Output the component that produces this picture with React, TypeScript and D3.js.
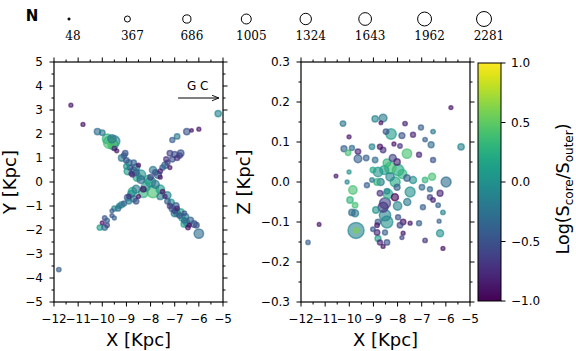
import React from "react";
import * as d3 from "d3";

// legend sizes (N)
const legendN = [48, 367, 686, 1005, 1324, 1643, 1962, 2281];

// left panel: x, y [Kpc], log(S_core/S_outer), N
const xyX = [-11.3, -10.8, -10.2, -10.0, -9.7, -9.8, -9.6, -9.5, -9.5, -9.4,
  -5.2, -6.0, -6.3, -6.5, -6.9, -7.1, -7.0, -6.8, -6.9, -7.1, -7.3, -7.2, -7.5, -7.6, -7.7, -7.8, -7.6,
  -8.0, -8.2, -8.4, -7.9, -8.3, -8.6, -8.0, -7.8, -8.1,
  -9.1, -9.0, -8.9, -8.85, -8.7, -8.8, -8.6, -8.5, -9.0, -8.75,
  -8.6, -8.8, -8.9, -8.7, -8.9, -9.1, -9.3, -9.5, -8.5, -9.6,
  -9.6, -9.5, -9.9, -10.0, -10.1, -9.9, -9.8, -9.8,
  -7.6, -7.5, -7.6, -7.4, -7.3, -7.2, -7.1, -7.0, -6.9, -6.8, -6.7, -6.6, -6.5, -6.4, -6.2, -6.0, -6.9, -7.0, -6.6,
  -11.8,
  -9.2, -9.05, -8.95, -8.7, -8.55, -8.4,
  -7.2, -6.75, -7.4, -7.9, -7.35,
  -8.75, -8.95, -9.2, -9.35, -8.6, -8.3,
  -7.3, -7.15, -6.95, -6.75, -6.55, -6.35, -6.45, -6.1, -6.6,
  -9.55, -9.6];
const xyY = [3.2, 2.4, 2.1, 2.05, 1.65, 1.8, 1.6, 1.7, 1.4, 1.3,
  2.85, 2.2, 2.15, 2.1, 1.9, 1.75, 1.15, 1.1, 1.0, 0.95, 0.8, 0.6, 0.6, 0.45, 0.3, 0.4, 0.2,
  0.0, -0.2, 0.3, -0.4, -0.3, 0.4, 0.2, -0.1, 0.1,
  1.1, 0.9, 0.8, 0.6, 0.5, 0.35, 0.6, 0.7, 0.65, 0.3,
  -0.3, -0.5, -0.6, -0.7, -0.8, -0.9, -1.0, -1.1, -0.6, -1.2,
  -1.4, -1.5, -1.5, -1.7, -1.9, -1.9, -1.8, -1.6,
  -0.3, -0.4, -0.6, -0.6, -0.8, -1.0, -1.1, -1.2, -1.3, -1.4, -1.5, -1.6, -1.7, -1.8, -1.75, -2.15, -1.1, -1.3, -1.3,
  -3.65,
  1.0, 1.2, 0.45, 0.8, 0.2, 0.1,
  1.2, 1.2, 0.7, 0.5, 0.95,
  -0.4, -0.65, -0.95, -1.1, -0.8, -0.45,
  -0.55, -0.85, -1.0, -1.25, -1.45, -1.6, -1.9, -1.8, -1.75,
  1.55, 1.8];
const xyC = [-0.9, -0.9, -0.3, -0.2, 0.4, 0.3, 0.5, -0.1, -0.8, -0.9,
  -0.1, -0.9, -0.9, -0.5, -0.2, -0.4, -0.5, -0.6, -0.7, -0.5, -0.6, -0.9, -0.4, -0.8, -0.3, -0.5, -0.9,
  -0.1, 0.1, 0.0, 0.4, -0.9, -0.4, -0.6, -0.2, 0.2,
  -0.4, -0.5, -0.2, -0.6, -0.3, -0.8, -0.1, -0.9, 0.0, -0.7,
  -0.2, 0.0, -0.7, -0.3, -0.1, -0.4, -0.2, -0.1, -0.9, -0.4,
  -0.5, -0.4, -0.5, -0.9, 0.1, -0.3, -0.6, -0.4,
  0.1, -0.9, -0.2, -0.8, -0.4, -0.7, -0.3, -0.6, -0.1, -0.5, 0.1, -0.3, 0.0, -0.9, -0.5, -0.3, -0.8, -0.2, -0.5,
  -0.4,
  -0.2, -0.5, 0.1, -0.4, 0.2, -0.3,
  -0.6, -0.5, -0.3, -0.2, -0.7,
  0.2, -0.4, 0.0, -0.3, -0.5, 0.3,
  -0.1, 0.0, -0.4, 0.2, -0.2, -0.4, -0.9, -0.5, 0.1,
  0.2, -0.2];
const xyN = [150, 150, 400, 300, 1500, 900, 700, 1200, 200, 150,
  400, 150, 120, 400, 300, 250, 350, 300, 250, 300, 250, 150, 300, 200, 500, 300, 150,
  1000, 800, 900, 1500, 300, 400, 300, 600, 700,
  300, 300, 400, 300, 350, 200, 500, 150, 300, 200,
  600, 500, 200, 400, 300, 250, 250, 250, 150, 150,
  150, 150, 200, 150, 300, 300, 200, 200,
  700, 200, 400, 150, 300, 250, 400, 300, 400, 300, 350, 300, 400, 150, 400, 900, 200, 500, 200,
  200,
  400, 300, 500, 300, 700, 600,
  300, 400, 400, 500, 250,
  700, 400, 350, 300, 300, 900,
  500, 400, 400, 400, 400, 400, 200, 300, 450,
  1000, 700];

// right panel: x [Kpc], z [Kpc], log ratio, N
const xzX = [-5.79, -5.37, -10.26, -10.01, -10.55, -10.22, -10.05, -9.89, -9.64, -9.64, -10.01, -10.09,
  -8.93, -8.6, -8.69, -7.69, -7.03, -6.53, -8.27, -8.48, -7.82, -7.36, -6.86, -6.61, -8.73, -9.06,
  -7.61, -7.11, -6.53, -8.44, -8.02, -7.98, -8.81, -8.85, -8.31, -7.61, -7.36, -6.86, -6.57, -5.99,
  -6.24, -9.27, -8.73, -8.44, -8.02, -7.48, -6.99, -6.66, -9.85, -9.97, -9.76, -9.89, -9.76,
  -8.11, -8.52, -8.6, -8.52, -8.44, -8.81, -8.85, -9.02, -8.85, -8.52, -9.72, -9.72, -11.25, -11.71,
  -8.81, -8.73, -8.44, -8.6, -7.98, -7.77, -7.9, -7.11, -7.48, -7.77, -7.82, -6.95, -6.66, -6.53,
  -6.32, -6.12, -6.28, -6.24, -6.86, -6.12, -9.02, -8.93, -9.06, -8.2, -8.6, -8.15, -7.9,
  -8.3, -8.55, -8.1, -8.4, -8.0, -7.8, -8.7, -7.6, -8.9, -9.3];
const xzZ = [0.186, 0.088, 0.146, 0.113, 0.015, 0.083, 0.073, 0.085, 0.076, 0.058, 0.025, 0.0,
  0.158, 0.16, 0.148, 0.146, 0.136, 0.126, 0.12, 0.126, 0.116, 0.118, 0.106, 0.093, 0.088, 0.088,
  0.071, 0.068, 0.055, 0.048, 0.05, 0.03, 0.025, 0.0, 0.013, 0.01, 0.005, 0.005, 0.013, 0.0,
  -0.028, -0.008, -0.028, -0.023, -0.013, -0.025, -0.013, -0.018, -0.02, -0.045, -0.058, -0.076, -0.078,
  -0.038, -0.053, -0.063, -0.083, -0.1, -0.1, -0.108, -0.118, -0.126, -0.126, -0.121, -0.121, -0.106, -0.151,
  -0.141, -0.151, -0.151, -0.161, -0.088, -0.1, -0.108, -0.103, -0.103, -0.128, -0.139, -0.063, -0.038, -0.045,
  -0.058, -0.076, -0.098, -0.128, -0.146, -0.166, 0.03, 0.055, 0.005, 0.06, 0.08, 0.095, 0.09,
  0.035, 0.03, 0.0, -0.03, -0.06, 0.02, 0.0, -0.05, -0.07, 0.06];
const xzC = [-0.9, -0.1, -0.2, -0.9, -0.9, -0.4, 0.4, -0.3, -0.8, -0.4, 0.0, -0.1,
  -0.1, -0.2, -0.9, -0.8, -0.4, -0.2, 0.1, -0.5, -0.5, -0.8, -0.4, -0.3, -0.9, -0.1,
  0.4, -0.8, -0.5, 0.3, -0.8, 0.2, 0.0, 0.3, -0.1, -0.4, 0.0, 0.3, 0.4, -0.3,
  -0.8, -0.4, -0.7, -0.1, -0.4, 0.0, -0.3, -0.3, 0.4, 0.3, 0.4, -0.3, -0.2,
  -1.0, -0.6, -0.7, -0.1, 0.0, -0.4, -0.9, -0.5, -0.8, -0.4, -0.1, 0.6, -0.9, -0.4,
  0.1, -0.8, -0.5, -0.9, -0.5, -0.9, -0.6, -0.4, -0.9, -0.9, -0.6, -0.4, -0.6, -0.8,
  -0.4, -0.1, -0.4, 0.0, -0.7, -0.9, 0.2, -0.3, -0.2, -0.6, -0.7, -0.9, -0.7,
  0.4, 0.1, 0.2, 0.2, -0.1, 0.3, -0.2, -0.2, 0.0, -0.4];
const xzN = [150, 400, 300, 150, 130, 350, 300, 250, 300, 600, 150, 150,
  400, 600, 130, 200, 250, 200, 1100, 300, 350, 250, 200, 350, 250, 300,
  900, 250, 250, 600, 400, 1300, 900, 400, 700, 400, 500, 300, 500, 1000,
  350, 250, 300, 300, 350, 1000, 300, 250, 700, 400, 300, 400, 500,
  500, 1200, 1000, 1300, 1400, 300, 200, 200, 300, 250, 2600, 250, 130, 180,
  350, 250, 300, 150, 250, 300, 300, 250, 150, 150, 150, 250, 250, 200,
  200, 200, 150, 500, 200, 150, 300, 300, 200, 500, 300, 150, 200,
  1300, 800, 1000, 900, 700, 800, 500, 500, 400, 300];

const xTicks = [-12, -11, -10, -9, -8, -7, -6, -5];
const yTicks = [-5, -4, -3, -2, -1, 0, 1, 2, 3, 4, 5];
const zTicks = [-0.3, -0.2, -0.1, 0.0, 0.1, 0.2, 0.3];
const cTicks = [-1.0, -0.5, 0.0, 0.5, 1.0];

const W = 576;
const H = 351;
const top = 62;
const bottom = 302;
const leftBox = [54, 223];
const rightBox = [301, 470];
const cbarBox = [478, 501];
const font = "DejaVu Sans, sans-serif";
const minus = (s: string) => s.replace("-", "\u2212");

const color = d3.scaleSequential(d3.interpolateViridis).domain([-1, 1]);
const rScale = d3.scaleSqrt().domain([0, 2281]).range([0, 7.5]);

function Frame({ x, y, xt, yt, xMinor, yMinor, yFmt }: any) {
  const [x0, x1] = x.range();
  const [y0, y1] = y.range();
  const maj = 4.5;
  const mn = 2.5;
  return (
    <g stroke="#000" strokeWidth={1}>
      {xt.map((t: number) => (
        <g key={"x" + t}>
          <line x1={x(t)} x2={x(t)} y1={y0} y2={y0 + maj} />
          <line x1={x(t)} x2={x(t)} y1={y1} y2={y1 - maj} />
          <text x={x(t)} y={y0 + 21} textAnchor="middle" fontSize={12} fontFamily={font} stroke="none" fill="#000">
            {minus(String(t))}
          </text>
        </g>
      ))}
      {xMinor.map((t: number) => (
        <g key={"xm" + t}>
          <line x1={x(t)} x2={x(t)} y1={y0} y2={y0 + mn} />
          <line x1={x(t)} x2={x(t)} y1={y1} y2={y1 - mn} />
        </g>
      ))}
      {yt.map((t: number) => (
        <g key={"y" + t}>
          <line x1={x0} x2={x0 - maj} y1={y(t)} y2={y(t)} />
          <line x1={x1} x2={x1 + maj} y1={y(t)} y2={y(t)} />
          <text x={x0 - 11} y={y(t) + 4.3} textAnchor="end" fontSize={12} fontFamily={font} stroke="none" fill="#000">
            {minus(yFmt(t))}
          </text>
        </g>
      ))}
      {yMinor.map((t: number) => (
        <g key={"ym" + t}>
          <line x1={x0} x2={x0 - mn} y1={y(t)} y2={y(t)} />
          <line x1={x1} x2={x1 + mn} y1={y(t)} y2={y(t)} />
        </g>
      ))}
      <rect x={x0} y={y1} width={x1 - x0} height={y0 - y1} fill="none" strokeWidth={1.2} />
    </g>
  );
}

function Points({ xs, ys, cs, ns, x, y }: any) {
  const idx = d3.range(xs.length).sort((a, b) => ns[b] - ns[a]);
  return (
    <g>
      {idx.map((i) => (
        <circle
          key={i}
          cx={x(xs[i])}
          cy={y(ys[i])}
          r={rScale(ns[i])}
          fill={color(cs[i])}
          fillOpacity={0.6}
          stroke={color(cs[i])}
          strokeOpacity={0.65}
          strokeWidth={1.5}
        />
      ))}
    </g>
  );
}

export default function App() {
  const xL = d3.scaleLinear().domain([-12, -5]).range(leftBox);
  const yL = d3.scaleLinear().domain([-5, 5]).range([bottom, top]);
  const xR = d3.scaleLinear().domain([-12, -5]).range(rightBox);
  const zR = d3.scaleLinear().domain([-0.3, 0.3]).range([bottom, top]);
  const cY = d3.scaleLinear().domain([-1, 1]).range([bottom - 1, top + 1]);

  const xMinor = d3.range(-11.5, -5, 1);
  const yMinor = d3.range(-4.5, 5, 1);
  const zMinor = d3.range(-0.25, 0.3, 0.1);

  const legX = d3.scaleLinear().domain([0, legendN.length - 1]).range([73, 489]);
  const stops = d3.range(0, 1.0001, 0.05);

  return (
    <svg width={W} height={H} style={{ position: "absolute", left: 0, top: 0, background: "#fff" }}>
      <defs>
        <linearGradient id="vir" x1="0" y1="1" x2="0" y2="0">
          {stops.map((s) => (
            <stop key={s} offset={s} stopColor={d3.interpolateViridis(s)} />
          ))}
        </linearGradient>
        <marker id="arr" viewBox="0 0 10 10" refX="10" refY="5" markerWidth="7" markerHeight="7" orient="auto">
          <path d="M0,1 L10,5 L0,9" fill="none" stroke="#000" strokeWidth={1.3} />
        </marker>
      </defs>

      {/* size legend */}
      <text x={32} y={21} textAnchor="middle" fontSize={15} fontFamily={font} fontWeight="bold">N</text>
      {legendN.map((n, i) => (
        <g key={n}>
          <circle cx={legX(i) - (i === 0 ? 4 : 5)} cy={19} r={rScale(n)} fill={i === 0 ? "#000" : "none"} stroke="#000" strokeWidth={1} />
          <text x={legX(i)} y={40} textAnchor="middle" fontSize={12} fontFamily="DejaVu Serif, serif">{n}</text>
        </g>
      ))}

      {/* left panel */}
      <Points xs={xyX} ys={xyY} cs={xyC} ns={xyN} x={xL} y={yL} />
      <Frame x={xL} y={yL} xt={xTicks} yt={yTicks} xMinor={xMinor} yMinor={yMinor} yFmt={(t: number) => String(t)} />
      <line x1={xL(-6.86)} x2={xL(-5.17)} y1={yL(3.5)} y2={yL(3.5)} stroke="#000" strokeWidth={1} markerEnd="url(#arr)" />
      <text x={xL(-6.05)} y={yL(3.85)} textAnchor="middle" fontSize={12} fontFamily={font}>G C</text>
      <text x={138.5} y={346} textAnchor="middle" fontSize={18} fontFamily={font}>X [Kpc]</text>
      <text transform={`translate(16,${(top + bottom) / 2}) rotate(-90)`} textAnchor="middle" fontSize={18} fontFamily={font}>Y [Kpc]</text>

      {/* right panel */}
      <Points xs={xzX} ys={xzZ} cs={xzC} ns={xzN} x={xR} y={zR} />
      <Frame x={xR} y={zR} xt={xTicks} yt={zTicks} xMinor={xMinor} yMinor={zMinor} yFmt={(t: number) => d3.format(".1f")(t)} />
      <text x={385.5} y={346} textAnchor="middle" fontSize={18} fontFamily={font}>X [Kpc]</text>
      <text transform={`translate(250,${(top + bottom) / 2}) rotate(-90)`} textAnchor="middle" fontSize={18} fontFamily={font}>Z [Kpc]</text>

      {/* colorbar */}
      <rect x={cbarBox[0]} y={cY(1)} width={cbarBox[1] - cbarBox[0]} height={cY(-1) - cY(1)} fill="url(#vir)" stroke="#000" strokeWidth={1} />
      {cTicks.map((t) => (
        <g key={t}>
          <line x1={cbarBox[1]} x2={cbarBox[1] + 4.5} y1={cY(t)} y2={cY(t)} stroke="#000" />
          <text x={cbarBox[1] + 10} y={cY(t) + 4.3} fontSize={12} fontFamily={font}>{minus(d3.format(".1f")(t))}</text>
        </g>
      ))}
      <text transform={`translate(569,189) rotate(-90)`} textAnchor="middle" fontSize={17.5} fontFamily={font}>
        Log(S<tspan fontSize={12} dy={4}>core</tspan><tspan dy={-4}>/S</tspan><tspan fontSize={12} dy={4}>outer</tspan><tspan dy={-4}>)</tspan>
      </text>
    </svg>
  );
}
